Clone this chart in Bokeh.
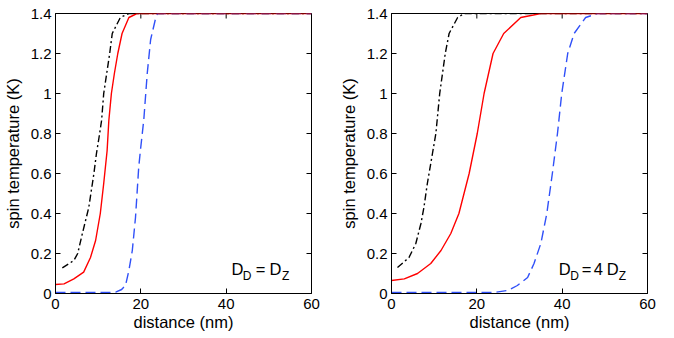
import math
from bokeh.plotting import figure
from bokeh.layouts import row
from bokeh.models import FixedTicker, Label
from bokeh.embed import file_html
from bokeh.resources import INLINE

# ---------------- data ----------------
x_ticks = [0, 20, 40, 60]
x_tick_labels = ["0", "20", "40", "60"]
y_ticks = [0, 0.2, 0.4, 0.6, 0.8, 1.0, 1.2, 1.4]
y_tick_labels = ["0", "0.2", "0.4", "0.6", "0.8", "1", "1.2", "1.4"]

# left panel: D_D = D_Z
left_black_x = [1.6, 4.3, 5.2, 6.3, 7.8, 9.0, 9.6, 10.2, 10.8, 11.3, 12.0, 12.7, 13.3, 15.2, 17.2, 60]
left_black_y = [0.128, 0.165, 0.2, 0.3, 0.43, 0.6, 0.7, 0.78, 0.865, 1.0, 1.1, 1.2, 1.3, 1.38, 1.4, 1.4]
left_red_x = [0, 2, 4.3, 6.6, 8.2, 9.4, 10.5, 11.3, 12.1, 12.5, 13.1, 13.8, 14.6, 15.6, 17.2, 19.1, 60]
left_red_y = [0.045, 0.048, 0.073, 0.107, 0.18, 0.265, 0.4, 0.55, 0.715, 0.865, 1.0, 1.1, 1.2, 1.3, 1.38, 1.4, 1.4]
left_blue_x = [0, 12, 14.1, 15.5, 16.4, 17.2, 18.0, 18.75, 19.5, 19.9, 20.7, 21.5, 22.3, 23.4, 23.9, 60]
left_blue_y = [0.005, 0.005, 0.007, 0.02, 0.04, 0.115, 0.215, 0.38, 0.63, 0.715, 0.87, 1.1, 1.27, 1.37, 1.4, 1.4]

# right panel: D_D = 4 D_Z
right_black_x = [1.4, 4.1, 5.7, 6.9, 7.6, 8.4, 9.6, 10.4, 11.3, 12.6, 13.5, 15.5, 17.0, 60]
right_black_y = [0.13, 0.18, 0.25, 0.35, 0.43, 0.55, 0.7, 0.8, 1.0, 1.2, 1.3, 1.38, 1.4, 1.4]
right_red_x = [0, 3.0, 6.1, 9.2, 11.6, 13.9, 15.8, 18.2, 20.1, 21.7, 23.8, 26.3, 30.3, 35, 60]
right_red_y = [0.065, 0.073, 0.1, 0.15, 0.215, 0.3, 0.4, 0.6, 0.8, 1.0, 1.2, 1.3, 1.38, 1.4, 1.4]
right_blue_x = [0, 24.0, 27.2, 29.5, 31.9, 33.4, 35.0, 36.4, 37.7, 38.9, 39.9, 41.3, 42.8, 45.5, 48.3, 60]
right_blue_y = [0.005, 0.005, 0.015, 0.04, 0.08, 0.15, 0.25, 0.4, 0.6, 0.8, 1.0, 1.2, 1.3, 1.38, 1.4, 1.4]

x_label = "distance (nm)"
y_label = "spin temperature (K)"

FONT = "Liberation Sans"
RED = "#ff0000"
BLUE = "#3050f8"
X_MAX = x_ticks[-1]
Y_MAX = y_ticks[-1]
MAIN = "16.5px"
SUB = "12px"


def style_axis(ax, ticks, labels, standoff):
    ax.ticker = FixedTicker(ticks=ticks)
    ax.major_label_overrides = {t: l for t, l in zip(ticks, labels)}
    ax.major_tick_in = 5
    ax.major_tick_out = 0
    ax.minor_tick_line_color = None
    ax.axis_line_color = "black"
    ax.axis_line_width = 1
    ax.major_tick_line_color = "black"
    ax.major_label_text_font = FONT
    ax.major_label_text_color = "black"
    ax.major_label_text_font_size = "15px"
    ax.major_label_standoff = standoff
    ax.axis_label_text_font = FONT
    ax.axis_label_text_font_style = "normal"
    ax.axis_label_text_color = "black"
    ax.axis_label_text_font_size = "16.5px"


def make_panel(bx, by, rx, ry, gx, gy, pieces, anchor_x, mbl, mbr):
    p = figure(frame_width=256, frame_height=280, x_range=(0, X_MAX), y_range=(0, Y_MAX),
               output_backend="svg", toolbar_location=None,
               min_border_left=mbl, min_border_right=mbr, min_border_top=13, min_border_bottom=41)
    p.grid.visible = False
    p.outline_line_color = "black"
    p.outline_line_width = 1
    p.background_fill_color = "white"
    p.border_fill_color = "white"

    style_axis(p.xaxis[0], x_ticks, x_tick_labels, 5)
    style_axis(p.yaxis[0], y_ticks, y_tick_labels, 4)
    p.xaxis[0].axis_label = x_label
    p.yaxis[0].axis_label = y_label
    p.xaxis[0].axis_label_standoff = 1
    p.yaxis[0].axis_label_standoff = 6

    # inward ticks on the top and right frame edges (box style)
    p.ray(x=x_ticks, y=[Y_MAX] * len(x_ticks), length=5, length_units="screen",
          angle=-math.pi / 2, line_color="black", line_width=1)
    p.ray(x=[X_MAX] * len(y_ticks), y=y_ticks, length=5, length_units="screen",
          angle=math.pi, line_color="black", line_width=1)

    p.line(bx, by, line_color="black", line_width=1.4, line_dash="7 3 2 3")
    p.line(gx, gy, line_color=BLUE, line_width=1.4, line_dash="10 5")
    p.line(rx, ry, line_color=RED, line_width=1.4)

    for text, dx, dy, size in pieces:
        p.add_layout(Label(x=anchor_x, y=0.1215, x_offset=dx, y_offset=dy, text=text,
                           text_font=FONT, text_font_size=size, text_color="black",
                           text_baseline="alphabetic", text_align="left"))
    return p


left_pieces = [("D", 0, 0, MAIN), ("D", 11.3, -7, SUB), ("=", 24.3, 0, MAIN),
               ("D", 38, 0, MAIN), ("Z", 50.5, -7, SUB)]
right_pieces = [("D", 0, 0, MAIN), ("D", 11.5, -7, SUB), ("=", 23, 0, MAIN),
                ("4", 35, 0, MAIN), ("D", 48, 0, MAIN), ("Z", 60, -7, SUB)]

p1 = make_panel(left_black_x, left_black_y, left_red_x, left_red_y, left_blue_x, left_blue_y,
                left_pieces, 41.25, 55, 25)
p2 = make_panel(right_black_x, right_black_y, right_red_x, right_red_y, right_blue_x, right_blue_y,
                right_pieces, 39.2, 55, 10)

layout = row(p1, p2)
open("out.html", "w").write(file_html(layout, INLINE))
